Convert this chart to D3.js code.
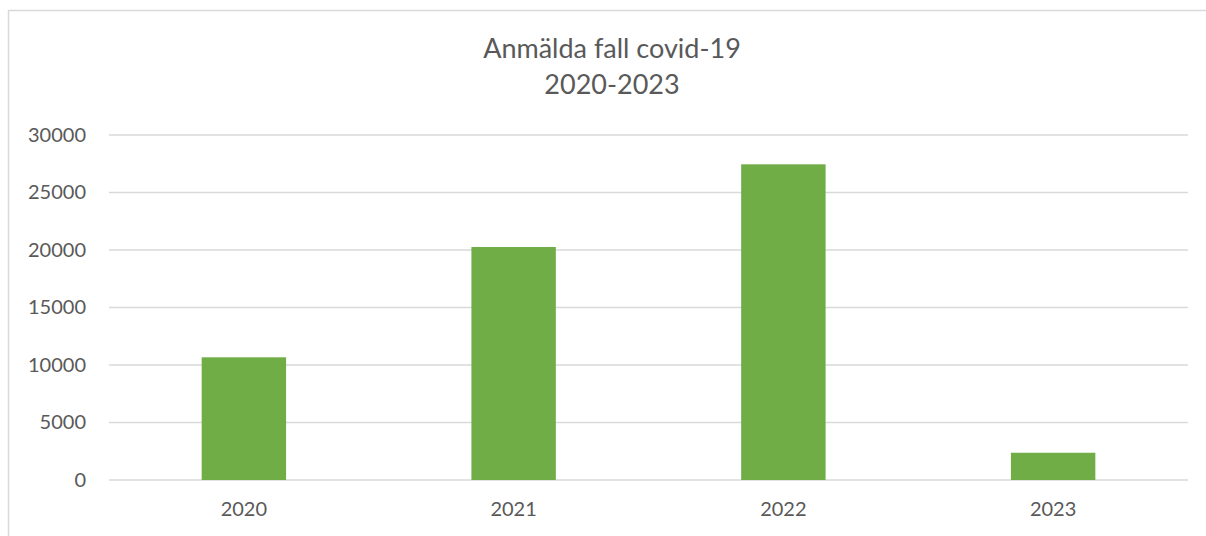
<!DOCTYPE html>
<html>
<head>
<meta charset="utf-8">
<script src="https://cdn.jsdelivr.net/npm/d3@7"></script>
<style>
  body { margin: 0; background: #fff; }
  svg text { font-family: Lato, "Open Sans", sans-serif; fill: #595959; }
</style>
</head>
<body>
<div id="chart"></div>
<script>
var years = ["2020", "2021", "2022", "2023"];
var cases = [10670, 20260, 27450, 2370];
var yTicks = [0, 5000, 10000, 15000, 20000, 25000, 30000];
var titleLines = ["Anmälda fall covid-19", "2020-2023"];

var width = 1206;
var height = 536;
var margin = { top: 135, right: 18, bottom: 56, left: 109 };

var svg = d3.select("#chart")
  .append("svg")
  .attr("width", width)
  .attr("height", height);

// chart frame (cut off at right/bottom in the original)
svg.append("rect")
  .attr("x", 8.5)
  .attr("y", 10.5)
  .attr("width", 1220)
  .attr("height", 540)
  .attr("fill", "none")
  .attr("stroke", "#d9d9d9")
  .attr("stroke-width", 1.5);

var x = d3.scaleBand()
  .domain(years)
  .range([margin.left, width - margin.right])
  .paddingInner(0.687)
  .paddingOuter(0.3435);

var y = d3.scaleLinear()
  .domain([0, 30000])
  .range([height - margin.bottom, margin.top]);

// gridlines
svg.append("g")
  .selectAll("line")
  .data(yTicks)
  .join("line")
  .attr("x1", margin.left)
  .attr("x2", width - margin.right)
  .attr("y1", function(d) { return y(d); })
  .attr("y2", function(d) { return y(d); })
  .attr("stroke", "#d9d9d9")
  .attr("stroke-width", 1.5);

var yAxis = d3.axisLeft(y)
  .tickValues(yTicks)
  .tickFormat(d3.format("d"))
  .tickSize(0)
  .tickPadding(23);

svg.append("g")
  .attr("transform", "translate(" + margin.left + ",0)")
  .call(yAxis)
  .call(function(g) { g.select(".domain").remove(); })
  .selectAll("text")
  .attr("font-size", 20)
  .style("fill", "#595959");

svg.append("g")
  .selectAll("rect")
  .data(cases)
  .join("rect")
  .attr("x", function(d, i) { return x(years[i]); })
  .attr("width", x.bandwidth())
  .attr("y", function(d) { return y(d); })
  .attr("height", function(d) { return y(0) - y(d); })
  .attr("fill", "#70ad47");

var xAxis = d3.axisBottom(x)
  .tickSize(0)
  .tickPadding(22);

svg.append("g")
  .attr("transform", "translate(0," + y(0) + ")")
  .call(xAxis)
  .call(function(g) { g.select(".domain").remove(); })
  .selectAll("text")
  .attr("font-size", 20)
  .style("fill", "#595959");

svg.append("g")
  .selectAll("text")
  .data(titleLines)
  .join("text")
  .attr("x", 612)
  .attr("y", function(d, i) { return 58 + i * 36; })
  .attr("text-anchor", "middle")
  .attr("font-size", 27)
  .text(function(d) { return d; });
</script>
</body>
</html>
